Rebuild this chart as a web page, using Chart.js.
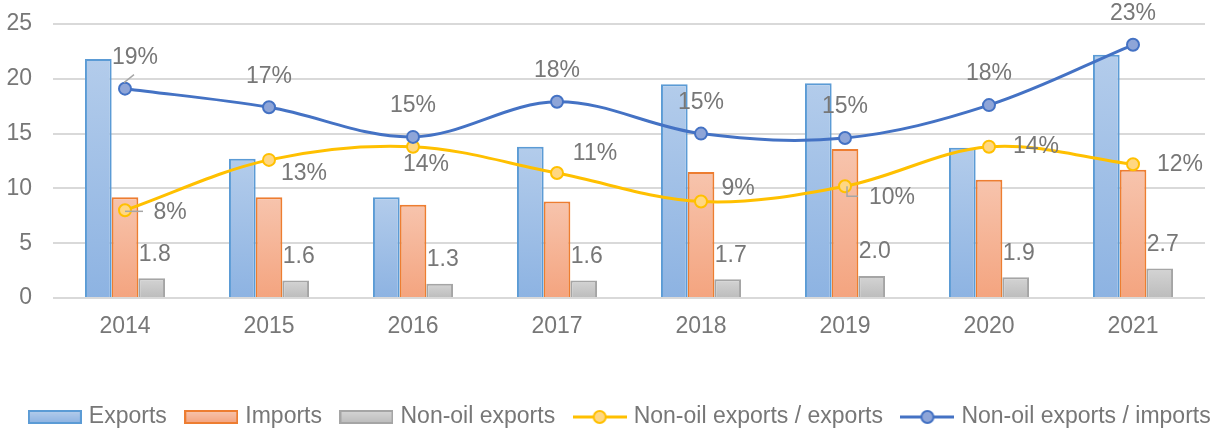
<!DOCTYPE html>
<html>
<head>
<meta charset="utf-8">
<script src="https://cdn.jsdelivr.net/npm/chart.js@4"></script>
<style>
  html, body { margin: 0; padding: 0; background: #fff; overflow: hidden; }
  #wrap { width: 1225px; height: 431px; }
</style>
</head>
<body>
<div id="wrap"><canvas id="trade-chart"></canvas></div>
<script>
// Data (USD bn, shares in %)
var years = ['2014', '2015', '2016', '2017', '2018', '2019', '2020', '2021'];
var exportsBn = [21.8, 12.7, 9.2, 13.8, 19.5, 19.6, 13.7, 22.2];
var importsBn = [9.2, 9.2, 8.5, 8.8, 11.5, 13.6, 10.8, 11.7];
var nonOilExportsBn = [1.8, 1.6, 1.3, 1.6, 1.7, 2.0, 1.9, 2.7];
var nonOilShareOfExports = [8.0, 12.6, 13.8, 11.4, 8.8, 10.2, 13.8, 12.2];
var nonOilShareOfImports = [19.1, 17.4, 14.7, 17.9, 15.0, 14.6, 17.6, 23.1];
var yTicks = [0, 5, 10, 15, 20, 25];

// Styling
var grey = '#777777';
var fontFamily = "'Liberation Sans', Arial, sans-serif";
var blueTop = '#b3cceb', blueBottom = '#8db3e2', blueEdge = '#5b9bd5';
var orangeTop = '#f7c4ad', orangeBottom = '#f4a47f', orangeEdge = '#ed7d31';
var greyTop = '#d4d4d4', greyBottom = '#bcbcbc', greyEdge = '#a5a5a5';
var yellowLine = '#ffc000', yellowDot = '#ffd782';
var navyLine = '#4472c4', navyDot = '#8ea5d8';

// Label nudges (px) for the share labels, as placed in the original
var exportShareNudge = [[45, 2], [35, 14], [13, 18], [38, -19], [37, -13], [47, 11], [47, 0], [47, 0]];
var importShareNudge = [[10, -31], [0, -31], [0, -31], [0, -31], [0, -31], [0, -31], [0, -31], [0, -31]];

// Per bar vertical gradient
function barFill(top, bottom) {
    return function (c) {
        var chart = c.chart;
        if (!chart.chartArea || c.type !== 'data' || !c.parsed) return bottom;
        var y = chart.scales.y;
        var g = chart.ctx.createLinearGradient(0, y.getPixelForValue(c.parsed.y), 0, y.getPixelForValue(0));
        g.addColorStop(0, top);
        g.addColorStop(1, bottom);
        return g;
    };
}

// Legend swatches drawn on little canvases
function barSwatch(top, bottom, edge) {
    var c = document.createElement('canvas');
    c.width = 54; c.height = 14;
    var x = c.getContext('2d');
    var g = x.createLinearGradient(0, 1, 0, 13);
    g.addColorStop(0, top); g.addColorStop(1, bottom);
    x.fillStyle = g;
    x.fillRect(1, 1, 52, 12);
    x.strokeStyle = edge; x.lineWidth = 2;
    x.strokeRect(1, 1, 52, 12);
    return c;
}
function lineSwatch(line, dot) {
    var c = document.createElement('canvas');
    c.width = 54; c.height = 16;
    var x = c.getContext('2d');
    x.strokeStyle = line; x.lineWidth = 3;
    x.beginPath(); x.moveTo(0, 8); x.lineTo(54, 8); x.stroke();
    x.beginPath(); x.arc(27, 8, 6, 0, Math.PI * 2);
    x.fillStyle = dot; x.fill();
    x.lineWidth = 2; x.stroke();
    return c;
}
var swatches = [
    barSwatch(blueTop, blueBottom, blueEdge),
    barSwatch(orangeTop, orangeBottom, orangeEdge),
    barSwatch(greyTop, greyBottom, greyEdge),
    lineSwatch(yellowLine, yellowDot),
    lineSwatch(navyLine, navyDot)
];

// Data labels + leader lines
var labelPlugin = {
    id: 'labels',
    afterDatasetsDraw: function (chart) {
        var ctx = chart.ctx;
        ctx.save();
        ctx.font = '23px ' + fontFamily;
        ctx.fillStyle = grey;
        ctx.textAlign = 'center';
        ctx.textBaseline = 'middle';

        // leader lines
        ctx.strokeStyle = '#a6a6a6';
        ctx.lineWidth = 1.5;
        var b0 = chart.getDatasetMeta(4).data[0];
        ctx.beginPath(); ctx.moveTo(b0.x - 1, b0.y - 6); ctx.lineTo(b0.x + 9, b0.y - 14); ctx.stroke();
        var y0 = chart.getDatasetMeta(3).data[0];
        ctx.beginPath(); ctx.moveTo(y0.x, y0.y + 1); ctx.lineTo(y0.x + 18, y0.y + 1); ctx.stroke();
        var y5 = chart.getDatasetMeta(3).data[5];
        ctx.beginPath(); ctx.moveTo(y5.x + 2, y5.y); ctx.lineTo(y5.x + 2, y5.y + 10); ctx.lineTo(y5.x + 13, y5.y + 10); ctx.stroke();

        chart.getDatasetMeta(2).data.forEach(function (el, i) {
            ctx.fillText(nonOilExportsBn[i].toFixed(1), el.x + 3, el.y - 24);
        });
        chart.getDatasetMeta(3).data.forEach(function (el, i) {
            var n = exportShareNudge[i];
            ctx.fillText(Math.round(nonOilShareOfExports[i]) + '%', el.x + n[0], el.y + n[1]);
        });
        chart.getDatasetMeta(4).data.forEach(function (el, i) {
            var n = importShareNudge[i];
            ctx.fillText(Math.round(nonOilShareOfImports[i]) + '%', el.x + n[0], el.y + n[1]);
        });
        ctx.restore();
    }
};

// move the legend a little lower and to the right, like the original
var legendNudge = {
    id: 'legendNudge',
    afterLayout: function (chart) {
        var l = chart.legend;
        l.top += 7.5; l.bottom += 7.5;
        l.left += 9; l.right += 9;
    }
};

var barCommon = {
    type: 'bar',
    borderWidth: 2,
    categoryPercentage: 0.556,
    barPercentage: 1,
    order: 2
};

var data = {
    labels: years,
    datasets: [
        Object.assign({}, barCommon, {
            label: 'Exports', data: exportsBn,
            backgroundColor: barFill(blueTop, blueBottom), borderColor: blueEdge
        }),
        Object.assign({}, barCommon, {
            label: 'Imports', data: importsBn,
            backgroundColor: barFill(orangeTop, orangeBottom), borderColor: orangeEdge
        }),
        Object.assign({}, barCommon, {
            label: 'Non-oil exports', data: nonOilExportsBn,
            backgroundColor: barFill(greyTop, greyBottom), borderColor: greyEdge
        }),
        {
            type: 'line', label: 'Non-oil exports / exports', data: nonOilShareOfExports,
            borderColor: yellowLine, borderWidth: 3, tension: 0.35, fill: false,
            pointRadius: 6, pointBorderWidth: 2,
            pointBackgroundColor: yellowDot, pointBorderColor: yellowLine, order: 1
        },
        {
            type: 'line', label: 'Non-oil exports / imports', data: nonOilShareOfImports,
            borderColor: navyLine, borderWidth: 3, tension: 0.35, fill: false,
            pointRadius: 6, pointBorderWidth: 2,
            pointBackgroundColor: navyDot, pointBorderColor: navyLine, order: 0
        }
    ]
};

var options = {
    responsive: true,
    maintainAspectRatio: false,
    animation: false,
    layout: { autoPadding: false, padding: { top: 24, right: 0, bottom: 0, left: 0 } },
    plugins: {
        tooltip: { enabled: false },
        legend: {
            position: 'bottom',
            labels: {
                usePointStyle: true,
                pointStyleWidth: 45,
                padding: 22,
                color: grey,
                font: { family: fontFamily, size: 23 },
                generateLabels: function (chart) {
                    return chart.data.datasets.map(function (ds, i) {
                        return {
                            text: ds.label,
                            pointStyle: swatches[i],
                            datasetIndex: i,
                            hidden: !chart.isDatasetVisible(i),
                            fontColor: grey,
                            fillStyle: 'transparent',
                            strokeStyle: 'transparent',
                            lineWidth: 0
                        };
                    });
                }
            }
        }
    },
    scales: {
        x: {
            grid: { display: false },
            border: { display: false },
            ticks: { color: grey, font: { family: fontFamily, size: 23 }, padding: 7 },
            afterFit: function (s) { s.height = 78; }
        },
        y: {
            min: 0,
            max: 25,
            // invisible tick marks give the gap between labels and plot
            grid: { color: '#d9d9d9', lineWidth: 2, drawTicks: true, tickLength: 21, tickColor: 'rgba(0,0,0,0)' },
            border: { display: false },
            afterBuildTicks: function (s) { s.ticks = yTicks.map(function (v) { return { value: v }; }); },
            ticks: { color: grey, font: { family: fontFamily, size: 23 }, padding: 0 },
            afterFit: function (s) { s.width = 53; }
        },
        // empty right margin, kept as an axis so the legend can use the full width
        margin: {
            position: 'right',
            grid: { display: false },
            border: { display: false },
            ticks: { display: false },
            afterFit: function (s) { s.width = 20; }
        }
    }
};

var ctx = document.getElementById('trade-chart').getContext('2d');
var tradeChart = new Chart(ctx, {
    type: 'bar',
    data: data,
    options: options,
    plugins: [labelPlugin, legendNudge]
});
</script>
</body>
</html>
